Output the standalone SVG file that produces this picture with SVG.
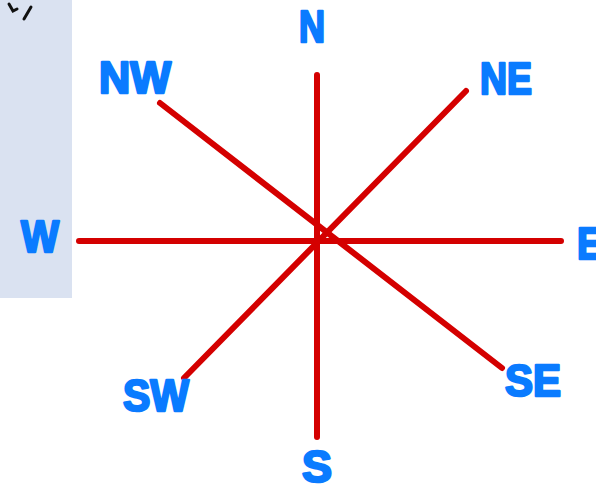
<svg xmlns="http://www.w3.org/2000/svg" width="596" height="492" viewBox="0 0 596 492">
<style>
.lbl{font-family:"Liberation Sans",Arial,sans-serif;font-weight:bold;font-size:44px;fill:#0a7bff;stroke:#0a7bff;stroke-width:2.5;stroke-linejoin:round;text-anchor:middle}
.ray{stroke:#d40000;stroke-width:6;stroke-linecap:round;fill:none}
</style>
<rect x="0" y="0" width="72" height="298" fill="#dae2f1"/>
<path d="M9 4 L13 11 L17 9 M24 19 L31 7" stroke="#111" stroke-width="3" fill="none" stroke-linecap="round"/>
<g id="connectors">
<line class="ray" x1="317" y1="75" x2="317" y2="437"/>
<line class="ray" x1="79" y1="241" x2="561" y2="241"/>
<line class="ray" x1="160" y1="103" x2="502" y2="368"/>
<line class="ray" x1="466" y1="91" x2="184" y2="378"/>
</g>
<g id="N"><text class="lbl" x="312" y="42" textLength="26" lengthAdjust="spacingAndGlyphs">N</text></g>
<g id="NW"><text class="lbl" x="135" y="93" textLength="72" lengthAdjust="spacingAndGlyphs">NW</text></g>
<g id="NE"><text class="lbl" x="506" y="94" textLength="52" lengthAdjust="spacingAndGlyphs">NE</text></g>
<g id="W"><text class="lbl" x="40" y="252" textLength="38" lengthAdjust="spacingAndGlyphs">W</text></g>
<g id="E"><text class="lbl" x="590" y="259" textLength="26" lengthAdjust="spacingAndGlyphs">E</text></g>
<g id="SW"><text class="lbl" x="156" y="411" textLength="66" lengthAdjust="spacingAndGlyphs">SW</text></g>
<g id="SE"><text class="lbl" x="533" y="396" textLength="56" lengthAdjust="spacingAndGlyphs">SE</text></g>
<g id="S"><text class="lbl" x="317" y="482" textLength="30" lengthAdjust="spacingAndGlyphs">S</text></g>
</svg>
